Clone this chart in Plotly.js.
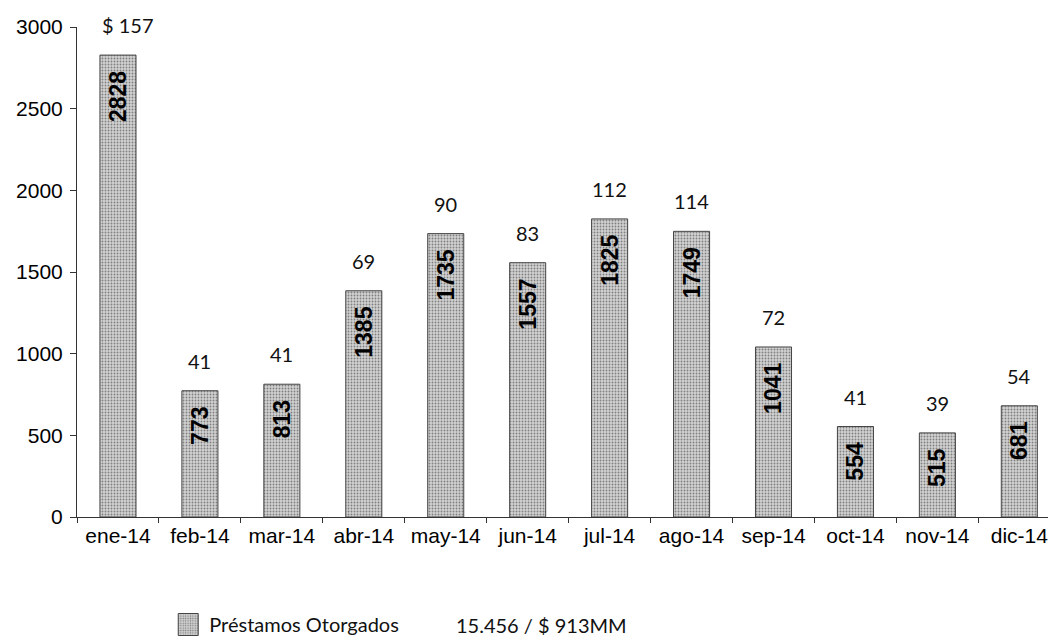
<!DOCTYPE html>
<html>
<head>
<meta charset="utf-8">
<script src="https://cdn.plot.ly/plotly-3.0.1.min.js"></script>
<style>html,body{margin:0;padding:0;background:#fff;}#chart{width:1048px;height:644px;}</style>
</head>
<body>
<div id="chart"></div>
<script>
const months = ['ene-14','feb-14','mar-14','abr-14','may-14','jun-14','jul-14','ago-14','sep-14','oct-14','nov-14','dic-14'];
const prestamos = [2828, 773, 813, 1385, 1735, 1557, 1825, 1749, 1041, 554, 515, 681];
const montos = ['$ 157', '41', '41', '69', '90', '83', '112', '114', '72', '41', '39', '54'];
const seriesName = 'Préstamos Otorgados';
const totalText = '15.456 / $ 913MM';

const trace = {
  type: 'bar',
  x: months,
  y: prestamos,
  name: seriesName,
  width: 0.44,
  marker: {
    color: '#c9c9c9',
    line: {color: '#444444', width: 1},
    pattern: {shape: '.', fgcolor: '#808080', bgcolor: '#d2d2d2', size: 3, solidity: 0.3}
  },
  text: prestamos.map(v => String(v) + '\u00a0\u00a0'),
  textposition: 'inside',
  insidetextanchor: 'end',
  textangle: -90,
  textfont: {family: 'Liberation Sans, Arial, sans-serif', size: 23, color: '#000', weight: 'bold'},
  constraintext: 'none',
  cliponaxis: false,
  hoverinfo: 'skip'
};

const annotations = months.map((m, i) => ({
  x: m, y: prestamos[i], xref: 'x', yref: 'y',
  text: montos[i], showarrow: false,
  yanchor: 'bottom', yshift: 16, xshift: i === 0 ? 10 : 0,
  font: {family: 'Lato, Open Sans, sans-serif', size: 20, color: '#111'}
}));
annotations.push({
  xref: 'paper', yref: 'paper', x: 0.388, y: -0.22, xanchor: 'left', yanchor: 'middle',
  text: totalText, showarrow: false,
  font: {family: 'Lato, Open Sans, sans-serif', size: 20, color: '#111'}
});

const layout = {
  width: 1048, height: 644,
  margin: {l: 77, r: 0, t: 27, b: 126},
  paper_bgcolor: '#fff', plot_bgcolor: '#fff',
  showlegend: true,
  legend: {
    orientation: 'h', x: 0.095, y: -0.22, xanchor: 'left', yanchor: 'middle',
    font: {family: 'Lato, Open Sans, sans-serif', size: 20, color: '#111'},
    itemwidth: 30
  },
  bargap: 0.56,
  xaxis: {
    type: 'category',
    range: [-0.5, 11.35],
    showline: true, linecolor: '#333', linewidth: 1,
    ticks: 'outside', tickson: 'boundaries', ticklen: 5, tickcolor: '#333',
    tickfont: {family: 'Liberation Sans, Arial, sans-serif', size: 21, color: '#000'},
    showgrid: false, zeroline: false
  },
  yaxis: {
    range: [0, 3000],
    tickvals: [0, 500, 1000, 1500, 2000, 2500, 3000],
    showline: true, linecolor: '#333', linewidth: 1,
    ticks: 'outside', ticklen: 6, tickcolor: '#333', ticklabelstandoff: 3,
    tickfont: {family: 'Liberation Sans, Arial, sans-serif', size: 21, color: '#000'},
    showgrid: false, zeroline: false
  },
  annotations: annotations
};

Plotly.newPlot('chart', [trace], layout, {displayModeBar: false, staticPlot: true}).then(gd => {
  gd.querySelectorAll('.legend .legendpoints path').forEach(p => {
    p.setAttribute('d', 'M9,11H-11V-11H9Z');
    p.style.strokeWidth = '1px';
  });
});
</script>
</body>
</html>
